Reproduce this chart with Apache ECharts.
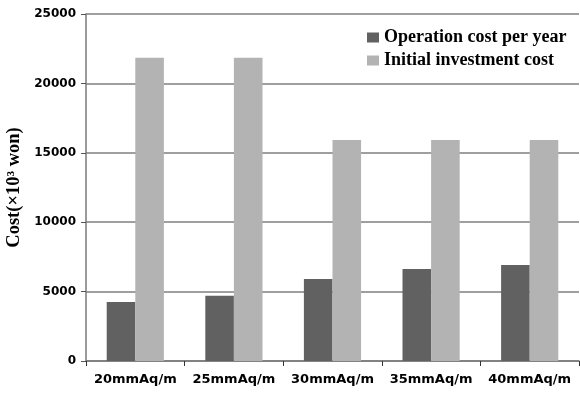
<!DOCTYPE html>
<html>
<head>
<meta charset="utf-8">
<script src="https://cdn.jsdelivr.net/npm/echarts@6/dist/echarts.min.js"></script>
<style>
  html, body { margin: 0; padding: 0; background: #fff; }
  #chart { width: 580px; height: 396px; }
</style>
</head>
<body>
<div id="chart"></div>
<script>
// Pressure-drop design options and their costs (×10³ won)
const categories = ['20mmAq/m', '25mmAq/m', '30mmAq/m', '35mmAq/m', '40mmAq/m'];
const operationCost = [4250, 4700, 5900, 6630, 6920];
const investmentCost = [21850, 21850, 15920, 15920, 15920];
const seriesNames = ['Operation cost per year', 'Initial investment cost'];
const yTicks = { min: 0, max: 25000, interval: 5000 };

const chart = echarts.init(document.getElementById('chart'), null, { renderer: 'canvas' });

const serif = '"Liberation Serif", "Times New Roman", serif';
const sans = '"DejaVu Sans", Verdana, sans-serif';

chart.setOption({
  animation: false,
  backgroundColor: '#ffffff',
  grid: { left: 86, right: 1, top: 14, bottom: 35, containLabel: false, outerBoundsMode: 'none' },
  legend: {
    orient: 'vertical',
    left: 362,
    top: 23,
    icon: 'rect',
    itemWidth: 12,
    itemHeight: 10,
    itemGap: 4,
    textStyle: { fontFamily: serif, fontWeight: 'bold', fontSize: 18, color: '#000', lineHeight: 19 },
    data: seriesNames
  },
  xAxis: {
    type: 'category',
    data: categories,
    boundaryGap: true,
    axisLine: { lineStyle: { color: '#7a7a7a', width: 1.5 } },
    axisTick: { show: true, length: 5, lineStyle: { color: '#333', width: 1 } },
    axisLabel: { interval: 0, fontFamily: sans, fontWeight: 'bold', fontSize: 13, color: '#000', margin: 12 }
  },
  yAxis: {
    type: 'value',
    min: yTicks.min,
    max: yTicks.max,
    interval: yTicks.interval,
    name: 'Cost(×10³ won)',
    nameLocation: 'middle',
    nameGap: 62,
    nameRotate: 90,
    nameTextStyle: { fontFamily: serif, fontWeight: 'bold', fontSize: 18.5, color: '#000' },
    axisLine: { show: true, lineStyle: { color: '#7a7a7a', width: 1.5 } },
    axisTick: { show: true, length: 5, lineStyle: { color: '#555', width: 1 } },
    axisLabel: {
      fontFamily: sans, fontWeight: 'bold', fontSize: 12, color: '#000', margin: 10,
      formatter: v => String(v)
    },
    splitLine: { show: true, lineStyle: { color: '#7f7f7f', width: 1.5 } }
  },
  series: [
    {
      name: seriesNames[0],
      type: 'bar',
      data: operationCost,
      itemStyle: { color: '#616161' },
      barGap: '0%',
      barCategoryGap: '42%'
    },
    {
      name: seriesNames[1],
      type: 'bar',
      data: investmentCost,
      itemStyle: { color: '#b3b3b3' },
      barGap: '0%',
      barCategoryGap: '42%'
    }
  ]
});
</script>
</body>
</html>
